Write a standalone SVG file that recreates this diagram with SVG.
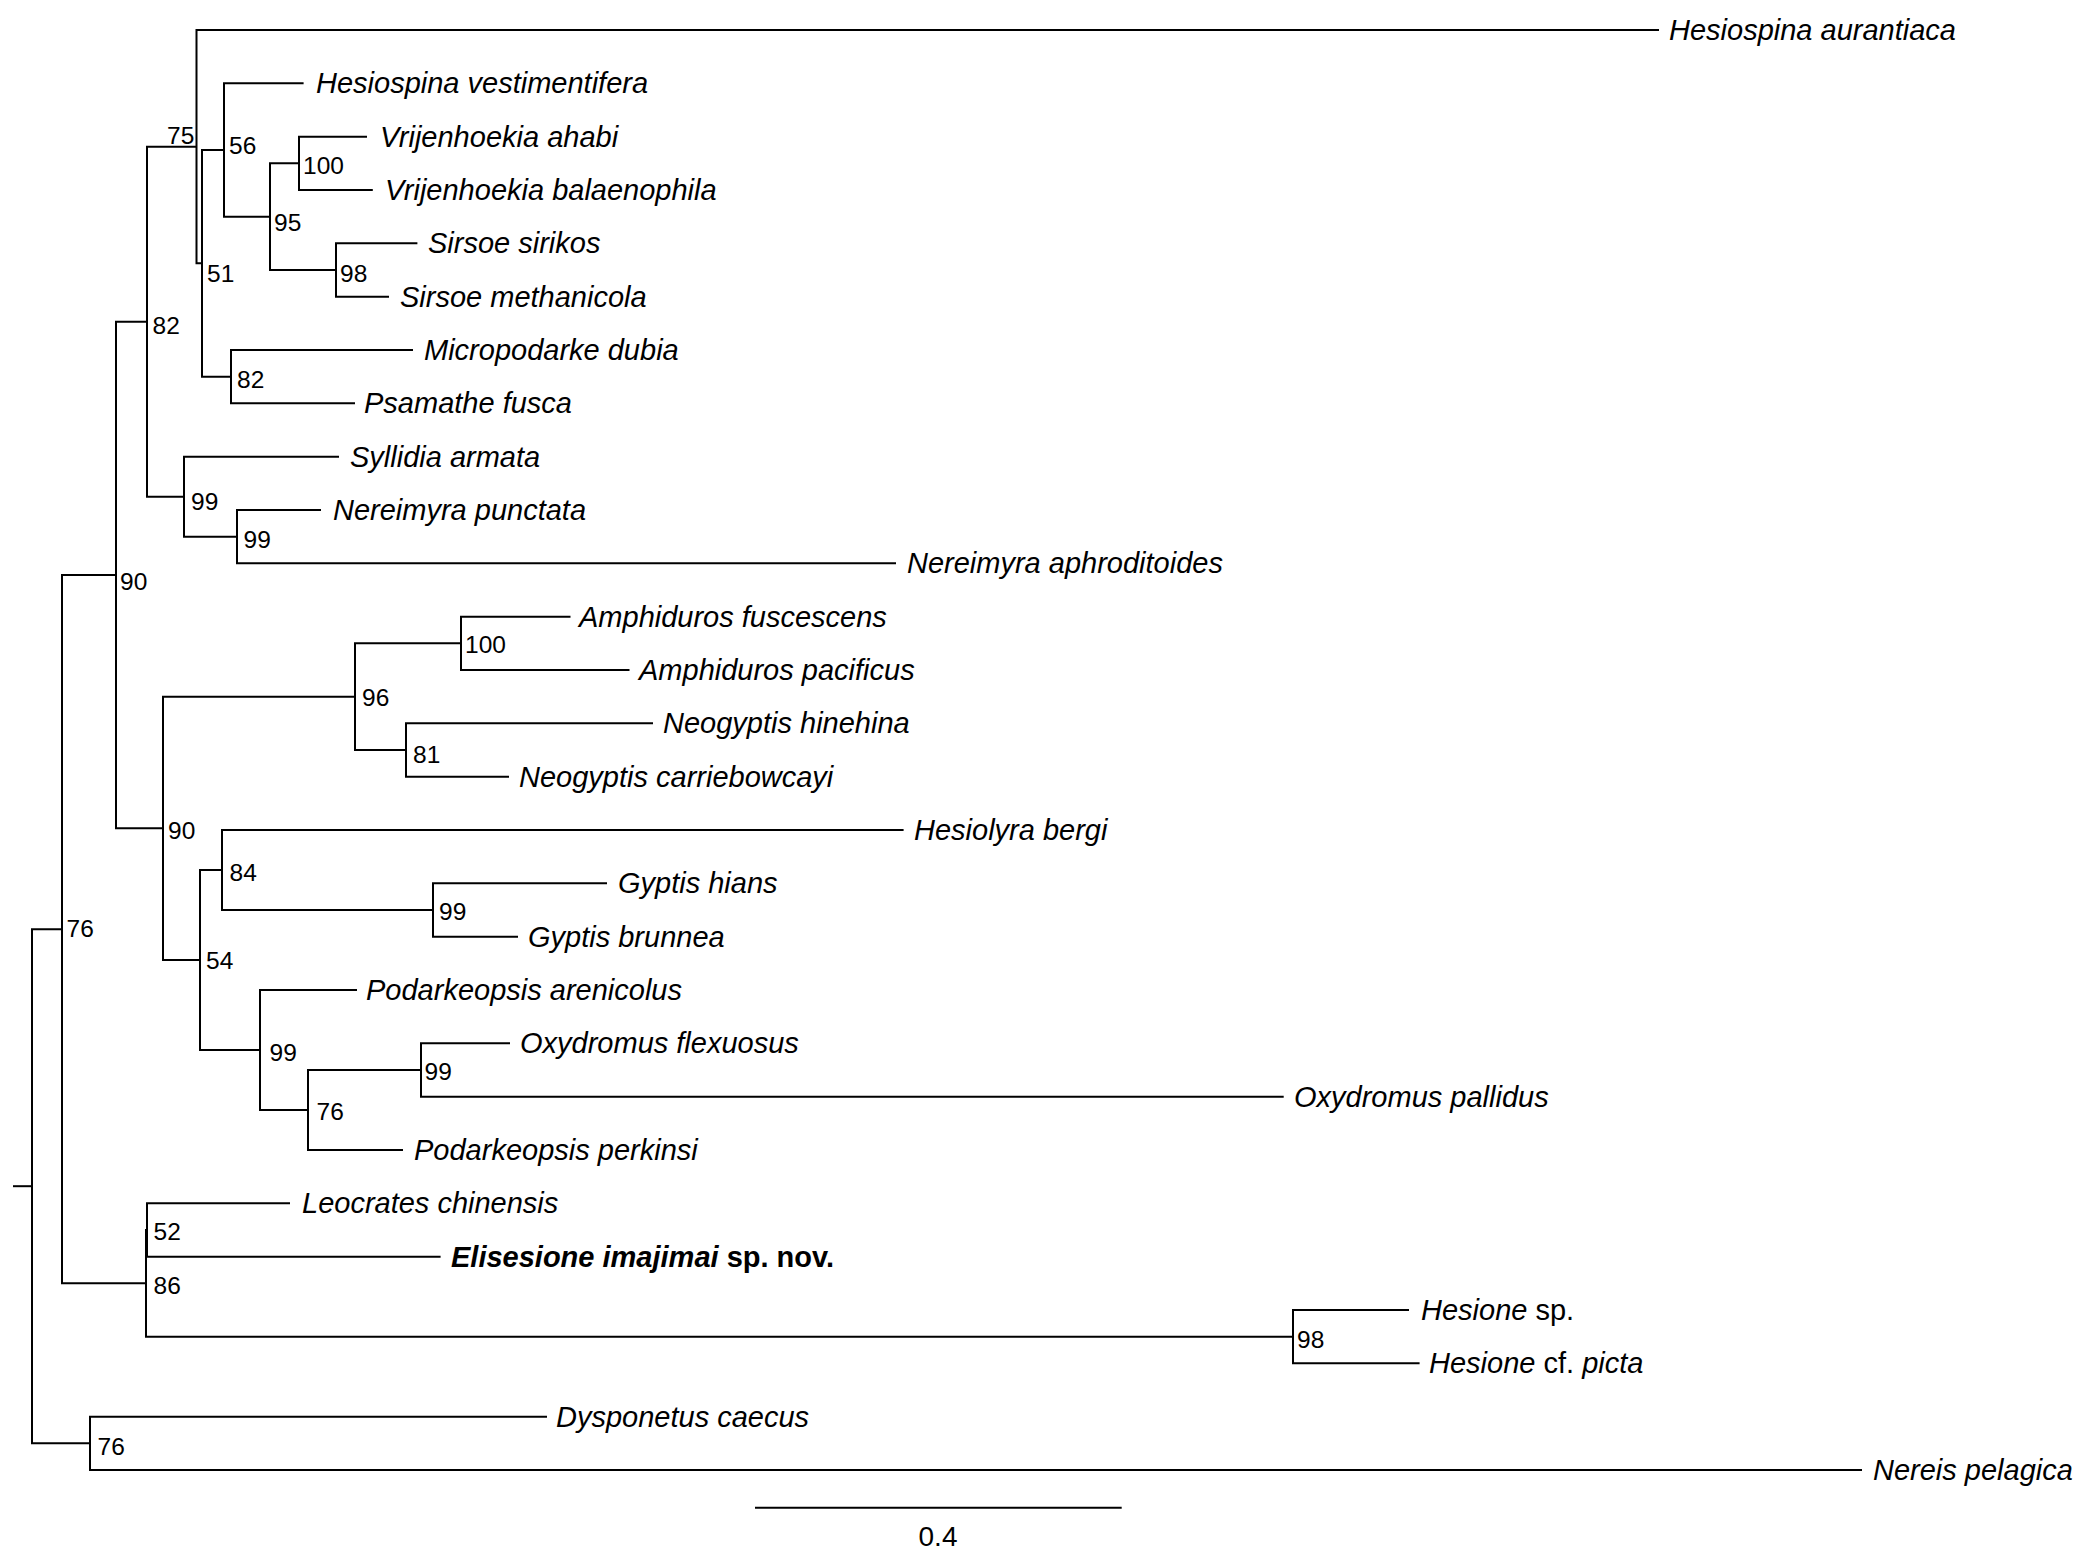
<svg xmlns="http://www.w3.org/2000/svg" width="2099" height="1562" viewBox="0 0 2099 1562">
<style>
.br{fill:none;stroke:#000;stroke-width:2;stroke-linejoin:miter}
.tip{font-family:"Liberation Sans",Arial,Helvetica,sans-serif;font-size:29px;font-style:italic;fill:#000}
.up{font-style:normal}
.sup{font-family:"Liberation Sans",Arial,Helvetica,sans-serif;font-size:24.5px;fill:#000}
.bold{font-weight:bold}
.scale{font-family:"Liberation Sans",Arial,Helvetica,sans-serif;font-size:28px;fill:#000}
</style>
<rect width="2099" height="1562" fill="#fff"/>
<g id="connectors">
<path class="br" d="M13 1186.2H32"/>
<path class="br" d="M62 929.2H32V1443.3H90"/>
<path class="br" d="M116 575H62V1283.3H146"/>
<path class="br" d="M547 1416.7H90V1470H1862"/>
<path class="br" d="M147 321.7H116V828.3H163"/>
<path class="br" d="M147 1230H146V1336.7H1293"/>
<path class="br" d="M290 1203.3H147V1256.7H440.6"/>
<path class="br" d="M1409 1310H1293V1363.3H1419.6"/>
<path class="br" d="M196.5 146.7H147V496.7H184"/>
<path class="br" d="M1659 30H196.5V263.3H202"/>
<path class="br" d="M224 150H202V376.7H231"/>
<path class="br" d="M303.6 83.3H224V216.7H270"/>
<path class="br" d="M299 163.3H270V270H336"/>
<path class="br" d="M367 136.7H299V190H372.8"/>
<path class="br" d="M417.4 243.3H336V296.7H389"/>
<path class="br" d="M413 350H231V403.3H355"/>
<path class="br" d="M339 456.7H184V536.7H237"/>
<path class="br" d="M321 510H237V563.3H896"/>
<path class="br" d="M355 696.7H163V960H200"/>
<path class="br" d="M461 643.3H355V750H406"/>
<path class="br" d="M570.5 616.7H461V670H629.5"/>
<path class="br" d="M653 723.3H406V776.7H509"/>
<path class="br" d="M222 870H200V1050H260"/>
<path class="br" d="M903.6 830H222V910H433"/>
<path class="br" d="M607 883.3H433V936.7H518"/>
<path class="br" d="M357 990H260V1110H308"/>
<path class="br" d="M421 1070H308V1150H403"/>
<path class="br" d="M510 1043.3H421V1096.7H1283.7"/>
</g>
<g id="tips">
<g id="t0"><text class="tip" x="1669" y="40">Hesiospina aurantiaca</text></g>
<g id="t1"><text class="tip" x="316" y="93.3">Hesiospina vestimentifera</text></g>
<g id="t2"><text class="tip" x="380" y="146.7">Vrijenhoekia ahabi</text></g>
<g id="t3"><text class="tip" x="385" y="200">Vrijenhoekia balaenophila</text></g>
<g id="t4"><text class="tip" x="428" y="253.3">Sirsoe sirikos</text></g>
<g id="t5"><text class="tip" x="400" y="306.7">Sirsoe methanicola</text></g>
<g id="t6"><text class="tip" x="424" y="360">Micropodarke dubia</text></g>
<g id="t7"><text class="tip" x="364" y="413.3">Psamathe fusca</text></g>
<g id="t8"><text class="tip" x="350" y="466.7">Syllidia armata</text></g>
<g id="t9"><text class="tip" x="333" y="520">Nereimyra punctata</text></g>
<g id="t10"><text class="tip" x="907" y="573.3">Nereimyra aphroditoides</text></g>
<g id="t11"><text class="tip" x="579" y="626.7">Amphiduros fuscescens</text></g>
<g id="t12"><text class="tip" x="639" y="680">Amphiduros pacificus</text></g>
<g id="t13"><text class="tip" x="663" y="733.3">Neogyptis hinehina</text></g>
<g id="t14"><text class="tip" x="519" y="786.7">Neogyptis carriebowcayi</text></g>
<g id="t15"><text class="tip" x="914" y="840">Hesiolyra bergi</text></g>
<g id="t16"><text class="tip" x="618" y="893.3">Gyptis hians</text></g>
<g id="t17"><text class="tip" x="528" y="946.7">Gyptis brunnea</text></g>
<g id="t18"><text class="tip" x="366" y="1000">Podarkeopsis arenicolus</text></g>
<g id="t19"><text class="tip" x="520" y="1053.3">Oxydromus flexuosus</text></g>
<g id="t20"><text class="tip" x="1294" y="1106.7">Oxydromus pallidus</text></g>
<g id="t21"><text class="tip" x="414" y="1160">Podarkeopsis perkinsi</text></g>
<g id="t22"><text class="tip" x="302" y="1213.3">Leocrates chinensis</text></g>
<g id="t23"><text class="tip bold" x="451" y="1266.7">Elisesione imajimai<tspan class="up"> sp. nov.</tspan></text></g>
<g id="t24"><text class="tip" x="1421" y="1320">Hesione<tspan class="up"> sp.</tspan></text></g>
<g id="t25"><text class="tip" x="1429" y="1373.3">Hesione<tspan class="up"> cf. </tspan>picta</text></g>
<g id="t26"><text class="tip" x="556" y="1426.7">Dysponetus caecus</text></g>
<g id="t27"><text class="tip" x="1873" y="1480">Nereis pelagica</text></g>
</g>
<g id="nodes">
<g id="nG"><text class="sup" x="167" y="144">75</text></g>
<g id="nJ"><text class="sup" x="229" y="153.5">56</text></g>
<g id="nM"><text class="sup" x="303" y="174">100</text></g>
<g id="nL"><text class="sup" x="274" y="230.5">95</text></g>
<g id="nN"><text class="sup" x="340" y="282">98</text></g>
<g id="nI"><text class="sup" x="207" y="282">51</text></g>
<g id="nK"><text class="sup" x="237" y="387.5">82</text></g>
<g id="nE"><text class="sup" x="152.5" y="334">82</text></g>
<g id="nH"><text class="sup" x="191" y="509.5">99</text></g>
<g id="nO"><text class="sup" x="243.5" y="548">99</text></g>
<g id="nC"><text class="sup" x="120" y="589.5">90</text></g>
<g id="nR"><text class="sup" x="465" y="653">100</text></g>
<g id="nP"><text class="sup" x="362" y="706">96</text></g>
<g id="nS"><text class="sup" x="413" y="762.5">81</text></g>
<g id="nF"><text class="sup" x="168" y="838.5">90</text></g>
<g id="nU"><text class="sup" x="229.5" y="881">84</text></g>
<g id="nW"><text class="sup" x="439" y="919.5">99</text></g>
<g id="nA"><text class="sup" x="66.5" y="936.5">76</text></g>
<g id="nQ"><text class="sup" x="206" y="968.5">54</text></g>
<g id="nV"><text class="sup" x="269.5" y="1061">99</text></g>
<g id="nY"><text class="sup" x="424.5" y="1079.5">99</text></g>
<g id="nX"><text class="sup" x="316.5" y="1120">76</text></g>
<g id="nD2"><text class="sup" x="153.5" y="1239.5">52</text></g>
<g id="nD1"><text class="sup" x="153.5" y="1293.5">86</text></g>
<g id="nZ"><text class="sup" x="1297" y="1348">98</text></g>
<g id="nB"><text class="sup" x="97.5" y="1455">76</text></g>
</g>
<g id="scalebar">
<path class="br" d="M755 1507.7H1121.7"/>
<text class="scale" x="938" y="1546" text-anchor="middle">0.4</text>
</g>
</svg>
